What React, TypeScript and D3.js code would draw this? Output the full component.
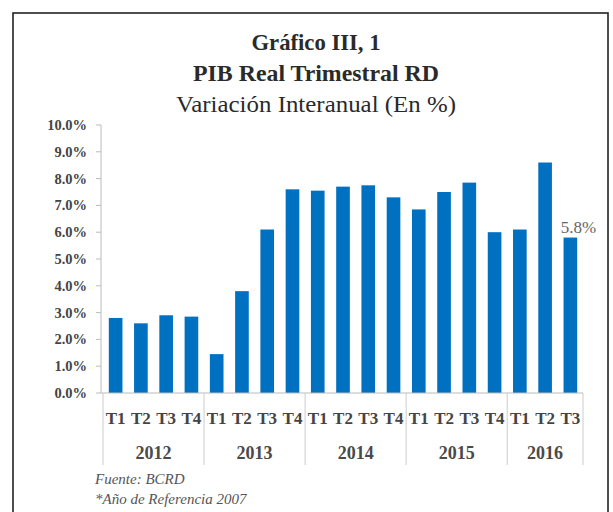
import React from "react";
import * as d3 from "d3";

const years = ["2012", "2013", "2014", "2015", "2016"];
const quarters = ["T1", "T2", "T3", "T4", "T1", "T2", "T3", "T4", "T1", "T2", "T3", "T4", "T1", "T2", "T3", "T4", "T1", "T2", "T3"];
const quarterYears = ["2012", "2012", "2012", "2012", "2013", "2013", "2013", "2013", "2014", "2014", "2014", "2014", "2015", "2015", "2015", "2015", "2016", "2016", "2016"];
const values = [2.8, 2.6, 2.9, 2.85, 1.45, 3.8, 6.1, 7.6, 7.55, 7.7, 7.75, 7.3, 6.85, 7.5, 7.85, 6.0, 6.1, 8.6, 5.8];
const yTicks = [0, 1, 2, 3, 4, 5, 6, 7, 8, 9, 10];
const titles = ["Gráfico III, 1", "PIB Real Trimestral RD", "Variación Interanual (En %)"];
const notes = ["Fuente: BCRD", "*Año de Referencia 2007"];

const W = 613, H = 512;
const left = 103, right = 583, top = 125, bottom = 393;
const serif = "'Liberation Serif', 'DejaVu Serif', serif";
const titleWidths = [129, 246, 280];

export default function App() {
  const idx = values.map((_, i) => String(i));
  const x = d3.scaleBand<string>().domain(idx).range([left, right]).paddingInner(0.46).paddingOuter(0.23);
  const step = x.step();
  const y = d3.scaleLinear().domain([0, 10]).range([bottom, top]);
  const fmt = d3.format(".1f");

  const groups = years.map((yr) => {
    const ids = quarterYears.map((q, i) => (q === yr ? i : -1)).filter((i) => i >= 0);
    const x0 = left + ids[0] * step;
    const x1 = left + (ids[ids.length - 1] + 1) * step;
    return { yr, x0, x1 };
  });
  const last = values.length - 1;

  return (
    <svg width={W} height={H} style={{ position: "absolute", left: 0, top: 0, background: "#fff" }}>
      <rect x={13} y={13} width={595} height={520} fill="none" stroke="#222" strokeWidth={1.6} />
      {titles.map((t, i) => (
        <text key={i} x={316} y={50 + i * 31} textAnchor="middle" fontFamily={serif}
          fontWeight={i < 2 ? "bold" : "normal"} fontSize={i < 2 ? 23 : 24} fill="#2a2a2a"
          textLength={titleWidths[i]} lengthAdjust="spacingAndGlyphs">{t}</text>
      ))}
      <line x1={left - 2} x2={left - 2} y1={top} y2={bottom} stroke="#bbb" strokeWidth={1} />
      {yTicks.map((t) => (
        <g key={t}>
          <line x1={left - 7} x2={left - 2} y1={y(t)} y2={y(t)} stroke="#bbb" />
          <text x={87} y={y(t) + 5} textAnchor="end" fontFamily={serif} fontWeight="bold" fontSize={14.5} fill="#444">
            {fmt(t)}%
          </text>
        </g>
      ))}
      {values.map((v, i) => (
        <rect key={i} x={x(String(i))} y={y(v)} width={x.bandwidth()} height={bottom - y(v)} fill="#0070C0" />
      ))}
      <line x1={left - 2} x2={right} y1={bottom} y2={bottom} stroke="#bbb" />
      {groups.map((g, i) => (
        <g key={g.yr}>
          {i === 0 && <line x1={g.x0} x2={g.x0} y1={bottom} y2={465} stroke="#ccc" />}
          <line x1={g.x1} x2={g.x1} y1={bottom} y2={465} stroke="#ccc" />
          <text x={(g.x0 + g.x1) / 2} y={459} textAnchor="middle" fontFamily={serif} fontWeight="bold" fontSize={18} fill="#4a4a4a">{g.yr}</text>
        </g>
      ))}
      {quarters.map((q, i) => (
        <text key={i} x={x(String(i))! + x.bandwidth() / 2} y={424} textAnchor="middle" fontFamily={serif} fontWeight="bold" fontSize={17} fill="#444">{q}</text>
      ))}
      <text x={x(String(last))! + x.bandwidth() / 2 + 8} y={y(values[last]) - 5} fontFamily={serif} fontSize={17} fill="#666" textAnchor="middle">
        {fmt(values[last])}%
      </text>
      {notes.map((n, i) => (
        <text key={i} x={95} y={484 + i * 20} fontFamily={serif} fontStyle="italic" fontSize={15} fill="#555">{n}</text>
      ))}
    </svg>
  );
}
